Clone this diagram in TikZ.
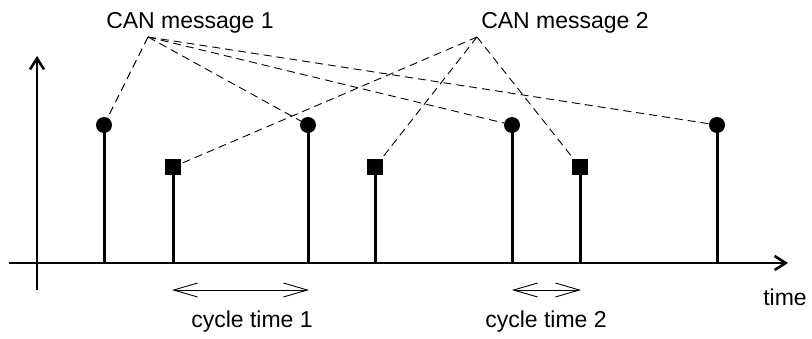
\documentclass[tikz,border=0pt]{standalone}
\usepackage{fontspec}
\setmainfont{Liberation Sans}
\usetikzlibrary{arrows.meta}
\begin{document}
\begin{tikzpicture}[x=1pt,y=-1pt,
  lbl/.style={font=\fontsize{23}{27}\selectfont, inner sep=0pt},
  axis/.style={line width=2.6pt, -{Straight Barb[length=11pt,width=14pt,line width=2.6pt]}},
  stem/.style={line width=3pt},
  dot/.style={circle, fill=black, minimum size=16pt, inner sep=0pt},
  sq/.style={rectangle, fill=black, minimum size=16pt, inner sep=0pt},
  link/.style={dashed, dash pattern=on 8pt off 5pt, line width=0.9pt},
  cyc/.style={line width=0.9pt, {Straight Barb[length=24pt,width=14pt,line width=0.9pt]}-{Straight Barb[length=24pt,width=14pt,line width=0.9pt]}}]
\useasboundingbox (0,0) rectangle (812,338);
% axes
\coordinate (xs) at (9,263);
\coordinate (xe) at (788,263);
\coordinate (ys) at (37,290);
\coordinate (ye) at (37,56);
\draw[axis] (xs) -- (xe);
\draw[axis] (ys) -- (ye);
% stems with circles
\foreach \n/\x in {c1/104,c2/308,c3/512,c4/717}{
  \coordinate (\n b) at (\x,263);
  \node[dot] (\n) at (\x,125) {};
  \draw[stem] (\n b) -- (\n.center);
}
% stems with squares
\foreach \n/\x in {s1/173,s2/375,s3/580}{
  \coordinate (\n b) at (\x,263);
  \node[sq] (\n) at (\x,167) {};
  \draw[stem] (\n b) -- (\n.center);
}
% labels
\node[lbl] (m1) at (190,23) {CAN message 1};
\node[lbl] (m2) at (565,23) {CAN message 2};
\coordinate (a1) at (148,37);
\coordinate (a2) at (477,37);
\foreach \n in {c1,c2,c3,c4} \draw[link] (a1) -- (\n);
\foreach \n in {s1,s2,s3} \draw[link] (a2) -- (\n);
% cycle times
\coordinate (t1a) at (172,290);
\coordinate (t1b) at (309,290);
\coordinate (t2a) at (512,290);
\coordinate (t2b) at (581,290);
\draw[cyc] (t1a) -- (t1b);
\draw[cyc] (t2a) -- (t2b);
\node[lbl] (ct1) at (252,322) {cycle time 1};
\node[lbl] (ct2) at (546,322) {cycle time 2};
\node[lbl] (tm) at (785,297) {time};
\end{tikzpicture}
\end{document}
